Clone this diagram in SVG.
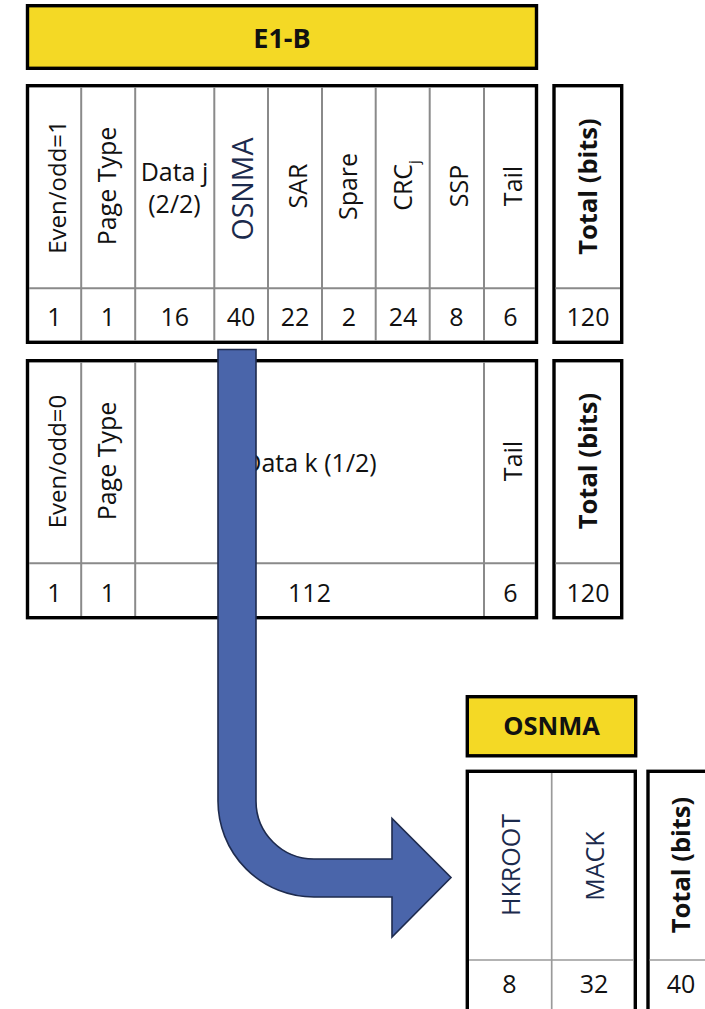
<svg xmlns="http://www.w3.org/2000/svg" width="705" height="1009" viewBox="0 0 705 1009">
  <style>
    .frame { fill: #ffffff; stroke: #000000; stroke-width: 3.4; }
    .banner { fill: #F4D925; stroke: #000000; stroke-width: 3.4; }
    .grid { stroke: #8a8a8a; stroke-width: 2; fill: none; }
    .grid-thin { stroke: #9a9a9a; stroke-width: 1.7; fill: none; }
    .lbl { font-family: "Open Sans", "Noto Sans", "DejaVu Sans", sans-serif; font-size: 25px; fill: #111111; text-anchor: middle; }
    .b { font-weight: bold; }
    .tot { font-weight: bold; font-size: 25.5px; }
    .navy { fill: #1B2A4C; }
    .arrow { fill: #4A65AA; stroke: #1E2B4E; stroke-width: 1.6; stroke-linejoin: miter; }
  </style>

  <rect width="705" height="1009" fill="#ffffff"/>

  <!-- E1-B page title -->
  <g id="e1b-title">
    <rect class="banner" x="27.5" y="5.7" width="509" height="62.6"/>
    <text class="lbl b" x="282" y="48" style="font-size:27px">E1-B</text>
  </g>

  <!-- Odd page (even/odd = 1) -->
  <g id="page-odd">
    <rect class="frame" x="27.5" y="85.7" width="509" height="256.6"/>
    <path class="grid" d="M29 288.3 H535 M81.2 87 V341 M135.2 87 V341 M214.3 87 V341 M268 87 V341 M322 87 V341 M375.7 87 V341 M429.7 87 V341 M484 87 V341"/>
    <text class="lbl" transform="translate(65.5,187) rotate(-90)" style="font-size:24px">Even/odd=1</text>
    <text class="lbl" transform="translate(116,186) rotate(-90)">Page Type</text>
    <text class="lbl" x="174.5" y="180.5">Data j</text>
    <text class="lbl" x="174.5" y="212.5">(2/2)</text>
    <text class="lbl navy" transform="translate(252.5,189) rotate(-90)" style="font-size:28.5px">OSNMA</text>
    <text class="lbl" transform="translate(306.5,186) rotate(-90)">SAR</text>
    <text class="lbl" transform="translate(357,186.5) rotate(-90)">Spare</text>
    <text class="lbl" transform="translate(411.5,185.5) rotate(-90)">CRC<tspan style="font-size:15px" dy="7">j</tspan></text>
    <text class="lbl" transform="translate(467.5,186) rotate(-90)">SSP</text>
    <text class="lbl" transform="translate(521.5,186) rotate(-90)">Tail</text>
    <text class="lbl" x="54.5" y="326">1</text>
    <text class="lbl" x="108" y="326">1</text>
    <text class="lbl" x="174.7" y="326">16</text>
    <text class="lbl" x="241" y="326">40</text>
    <text class="lbl" x="295" y="326">22</text>
    <text class="lbl" x="349" y="326">2</text>
    <text class="lbl" x="403" y="326">24</text>
    <text class="lbl" x="456.5" y="326">8</text>
    <text class="lbl" x="510.5" y="326">6</text>
  </g>

  <g id="total-odd">
    <rect class="frame" x="554" y="85.7" width="67.7" height="256.6"/>
    <path class="grid" d="M555.5 288.3 H620"/>
    <text class="lbl tot" transform="translate(597,186.5) rotate(-90)">Total (bits)</text>
    <text class="lbl" x="588" y="326">120</text>
  </g>

  <!-- Even page (even/odd = 0) -->
  <g id="page-even">
    <rect class="frame" x="27.5" y="360.7" width="509" height="257"/>
    <path class="grid" d="M29 563.3 H535 M81.2 362 V616 M135.2 362 V616 M484 362 V616"/>
    <text class="lbl" transform="translate(65.5,461.5) rotate(-90)" style="font-size:24px">Even/odd=0</text>
    <text class="lbl" transform="translate(116,461) rotate(-90)">Page Type</text>
    <text class="lbl" x="310" y="471.5">Data k (1/2)</text>
    <text class="lbl" transform="translate(521.5,461) rotate(-90)">Tail</text>
    <text class="lbl" x="54.5" y="601.5">1</text>
    <text class="lbl" x="108" y="601.5">1</text>
    <text class="lbl" x="309.5" y="601.5">112</text>
    <text class="lbl" x="510.5" y="601.5">6</text>
  </g>

  <g id="total-even">
    <rect class="frame" x="554" y="360.7" width="67.7" height="257"/>
    <path class="grid" d="M555.5 563.3 H620"/>
    <text class="lbl tot" transform="translate(597,461) rotate(-90)">Total (bits)</text>
    <text class="lbl" x="588" y="601.5">120</text>
  </g>

  <!-- OSNMA breakdown -->
  <g id="osnma-title">
    <rect class="banner" x="467.3" y="696.7" width="168.4" height="59.1"/>
    <text class="lbl b" x="551.5" y="735" style="font-size:25.5px">OSNMA</text>
  </g>

  <g id="osnma-fields">
    <rect class="frame" x="467.3" y="771.3" width="168" height="260"/>
    <path class="grid-thin" d="M469 960 H634 M551.7 773 V1030"/>
    <text class="lbl navy" transform="translate(520,865) rotate(-90)">HKROOT</text>
    <text class="lbl navy" transform="translate(604,866) rotate(-90)">MACK</text>
    <text class="lbl" x="509.5" y="993">8</text>
    <text class="lbl" x="594" y="993">32</text>
  </g>

  <g id="osnma-total">
    <rect class="frame" x="648" y="771.3" width="72" height="260"/>
    <path class="grid-thin" d="M649.5 960 H718"/>
    <text class="lbl tot" transform="translate(689.5,865) rotate(-90)">Total (bits)</text>
    <text class="lbl" x="681" y="993">40</text>
  </g>

  <!-- Connector: OSNMA field feeds the OSNMA breakdown -->
  <g id="connectors">
    <path class="arrow" d="M218 349.5 H256 V801 A58 58 0 0 0 314 859 H392 V818.5 L451 877.5 L392 937 V897 H314 A96 96 0 0 1 218 801 Z"/>
  </g>
</svg>
